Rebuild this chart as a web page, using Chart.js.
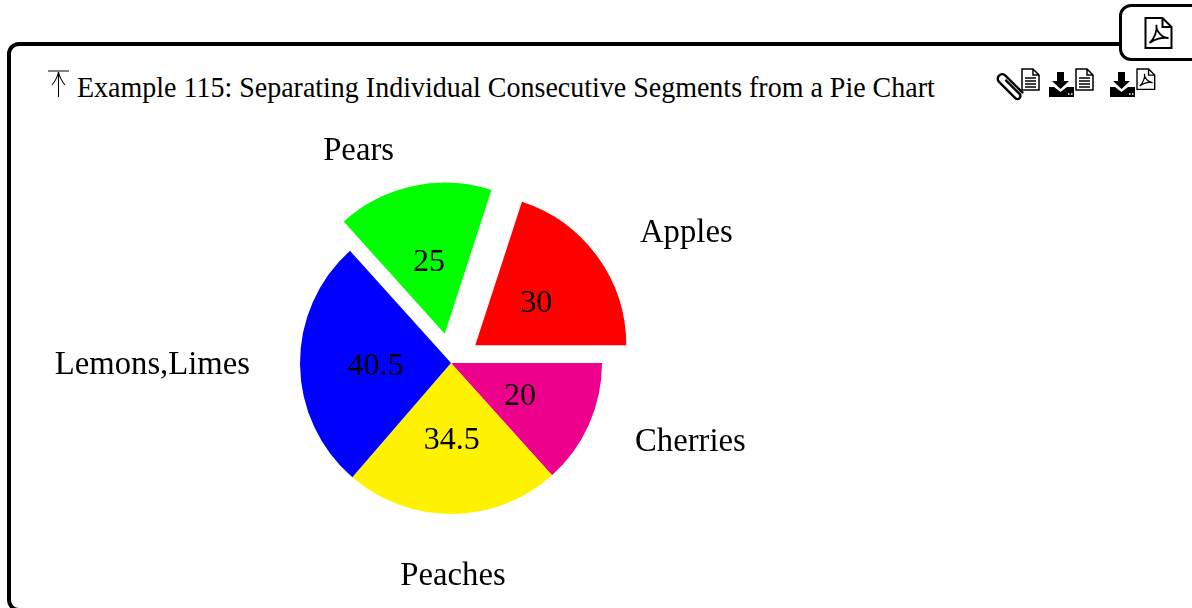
<!DOCTYPE html>
<html>
<head>
<meta charset="utf-8">
<title>Example 115</title>
<script src="https://cdn.jsdelivr.net/npm/chart.js@4"></script>
<style>
    html, body { margin: 0; padding: 0; background: #fff; }
    body { width: 1192px; height: 608px; position: relative; overflow: hidden; font-family: "Liberation Serif", serif; color: #000; }
    .frame { position: absolute; left: 7px; top: 42px; width: 1400px; height: 570px; border: 4px solid #000; border-radius: 12px; box-sizing: border-box; }
    .tab { position: absolute; left: 1119px; top: 4px; width: 200px; height: 57px; border: 3.5px solid #000; border-radius: 12px; box-sizing: border-box; background: #fff; }
    .title { position: absolute; left: 77px; top: 70px; font-size: 29px; line-height: 34px; white-space: nowrap; transform-origin: 0 0; transform: scaleX(0.965); }
    .pie-label { position: absolute; font-size: 32.7px; line-height: 36px; white-space: nowrap; }
    #chartWrap { position: absolute; left: 151px; top: 123px; width: 600px; height: 480px; }
    svg { position: absolute; overflow: visible; }
</style>
</head>
<body>
<div class="frame"></div>
<div class="tab"></div>

<svg style="left:0;top:0" width="1192" height="608" fill="none" stroke="#000">
    <defs>
        <g id="pdfPage">
            <path d="M0 0H17L26 9V30H0Z M17 0V9H26" stroke-width="2" fill="#fff"/>
            <path d="M4 25C9 21 12 12 11 7C10 12 16 20 23 20C17 19 9 21 4 25Z" stroke-width="1.8"/>
        </g>
        <g id="textPage">
            <path d="M0 0H11L17 6V21H0Z M11 0V6H17" stroke-width="1.5" fill="#fff"/>
            <path d="M3 9H14M3 12H14M3 15H14M3 18H14" stroke-width="1.5"/>
        </g>
        <g id="download">
            <path d="M9 0H16V9H21L12.5 17L4 9H9Z" fill="#000" stroke="none"/>
            <path d="M1 15H6L12.5 20L19 15H26V25H1Z" fill="#000" stroke="none"/>
            <path d="M20 22H21.5M23 22H24.5" stroke="#fff" stroke-width="1.5"/>
        </g>
    </defs>
    <use href="#pdfPage" x="1145.5" y="18"/>
    <!-- top arrow beside the title -->
    <path d="M48 71H69M58.5 97V72M52 85Q57 79 58.5 72Q60 79 65 85" stroke-width="1.1"/>
    <!-- paper clip -->
    <path transform="translate(1010 86.5) rotate(45)" d="M14 -4.5H-11A4.5 4.5 0 0 0 -11 4.5H12A3 3 0 0 0 12 -1.5H-8" stroke-width="2.4"/>
    <use href="#textPage" x="1022" y="69"/>
    <use href="#download" x="1048" y="72"/>
    <use href="#textPage" x="1076" y="69"/>
    <use href="#download" x="1109" y="72"/>
    <g transform="translate(1137 69) scale(0.68)"><use href="#pdfPage"/></g>
</svg>

<div class="title">Example 115: Separating Individual Consecutive Segments from a Pie Chart</div>
<div id="chartWrap"><canvas id="pieChart" width="600" height="480"></canvas></div>

<script>
// Listed clockwise from the east since Chart.js turns that way
const categories = ['Cherries', 'Peaches', 'Lemons,Limes', 'Pears', 'Apples'];
const values = [20, 34.5, 40.5, 25, 30];
const valueLabels = ['20', '34.5', '40.5', '25', '30'];
const sliceColors = ['#ec008c', '#fff200', '#0000ff', '#00ff00', '#ff0000'];
const separated = ['Pears', 'Apples'];

const EXPLODE_PX = 30;

// Outer label anchors on the page (ax: 0 left edge, 0.5 centre, 1 right edge)
const labelAnchors = {
    'Apples': { x: 640, y: 231, ax: 0 },
    'Pears': { x: 394, y: 149, ax: 1 },
    'Lemons,Limes': { x: 250, y: 363, ax: 1 },
    'Peaches': { x: 453, y: 574, ax: 0.5 },
    'Cherries': { x: 635, y: 440, ax: 0 }
};

function explodeOf(arc) {
    return separated.includes(categories[arc.$context.index]) ? EXPLODE_PX : 0;
}

// Chart.js offset also grows the radius, so slide the separated arcs instead
const baseArcDraw = Chart.ArcElement.prototype.draw;
Chart.ArcElement.prototype.draw = function(ctx, area) {
    const mid = (this.startAngle + this.endAngle) / 2;
    const shift = explodeOf(this);
    ctx.save();
    ctx.translate(Math.cos(mid) * shift, Math.sin(mid) * shift);
    baseArcDraw.call(this, ctx, area);
    ctx.restore();
};

// Values sit halfway along each slice
const sliceValuePlugin = {
    id: 'sliceValues',
    afterDatasetsDraw(chart) {
        const ctx = chart.ctx;
        ctx.save();
        ctx.font = '32px "Liberation Serif"';
        ctx.fillStyle = '#000';
        ctx.textAlign = 'center';
        ctx.textBaseline = 'middle';
        chart.getDatasetMeta(0).data.forEach((arc, i) => {
            const mid = (arc.startAngle + arc.endAngle) / 2;
            const r = arc.outerRadius / 2 + explodeOf(arc);
            ctx.fillText(valueLabels[i], arc.x + Math.cos(mid) * r, arc.y + Math.sin(mid) * r + 2.5);
        });
        ctx.restore();
    }
};

new Chart(document.getElementById('pieChart').getContext('2d'), {
    type: 'pie',
    data: {
        labels: categories,
        datasets: [{
            data: values,
            backgroundColor: sliceColors,
            borderWidth: 0
        }]
    },
    options: {
        responsive: false,
        animation: false,
        rotation: 90,
        radius: 151,
        layout: { padding: 0 },
        plugins: {
            legend: { display: false },
            tooltip: { enabled: false }
        }
    },
    plugins: [sliceValuePlugin]
});

// Outer labels
categories.forEach(name => {
    const a = labelAnchors[name];
    const el = document.createElement('div');
    el.className = 'pie-label';
    el.textContent = name;
    el.style.left = a.x + 'px';
    el.style.top = a.y + 'px';
    el.style.transform = `translate(${-a.ax * 100}%, -50%)`;
    document.body.appendChild(el);
});
</script>
</body>
</html>
